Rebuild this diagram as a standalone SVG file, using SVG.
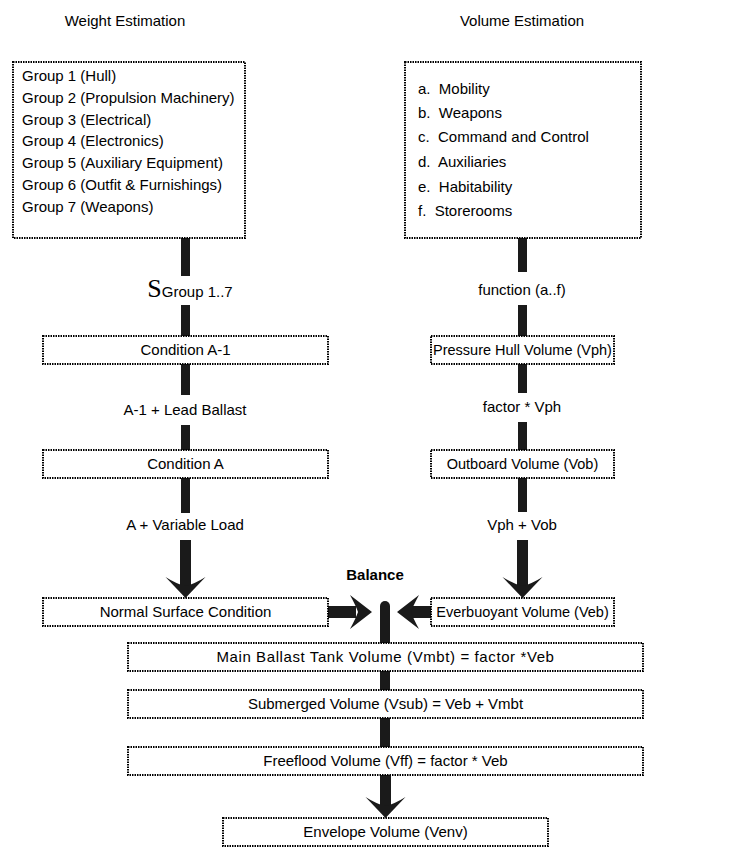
<svg xmlns="http://www.w3.org/2000/svg" width="750" height="867" viewBox="0 0 750 867">
  <style>
    .box { fill: #fff; stroke: #000; stroke-width: 2; stroke-dasharray: 1.5 1; }
    .t { font-family: "Liberation Sans", Arial, sans-serif; font-size: 15px; fill: #000; }
    .s { font-size: 14.5px; }
    .c { text-anchor: middle; }
    .bar { fill: #1a1a1a; }
    .title { font-family: "Liberation Sans", Arial, sans-serif; font-size: 15px; fill: #000; text-anchor: middle; }
  </style>
  <defs>
    <!-- downward chevron arrowhead, tip at origin -->
    <path id="headDown" d="M0,0 L-20,-21 Q-9,-14 0,-12 Q9,-14 20,-21 Z"/>
  </defs>
  <rect width="750" height="867" fill="#fff"/>

  <text class="title" x="125" y="26">Weight Estimation</text>
  <text class="title" x="522" y="26">Volume Estimation</text>

  <!-- connectors -->
  <g id="connectors" class="bar">
    <!-- weight column -->
    <rect x="181" y="238" width="9" height="38"/>
    <rect x="181" y="305" width="9" height="31"/>
    <rect x="181" y="364" width="9" height="31"/>
    <rect x="181" y="425" width="9" height="25"/>
    <rect x="181" y="478" width="9" height="35"/>
    <rect x="180" y="540" width="11" height="48"/>
    <use href="#headDown" x="185.5" y="598"/>
    <!-- volume column -->
    <rect x="518" y="238" width="9" height="34"/>
    <rect x="518" y="305" width="9" height="31"/>
    <rect x="518" y="364" width="9" height="29"/>
    <rect x="518" y="422" width="9" height="28"/>
    <rect x="518" y="478" width="9" height="34"/>
    <rect x="517" y="540" width="11" height="48"/>
    <use href="#headDown" x="522.5" y="598"/>
    <!-- balance arrows -->
    <rect x="328" y="606" width="28" height="12"/>
    <path d="M372,612 L350,595 Q356,606 358,612 Q356,618 350,629 Z"/>
    <rect x="410" y="606" width="21" height="12"/>
    <path d="M397,612 L419,595 Q413,606 411,612 Q413,618 419,629 Z"/>
    <rect x="380" y="601" width="10" height="40" rx="5"/>
    <rect x="380" y="612" width="10" height="31"/>
    <!-- envelope chain -->
    <rect x="380" y="671" width="10" height="19"/>
    <rect x="380" y="718" width="10" height="29"/>
    <rect x="380" y="775" width="11" height="33"/>
    <use href="#headDown" x="385.5" y="818"/>
  </g>

  <!-- connector labels -->
  <g id="labels">
    <text x="190" y="297" class="c"><tspan font-family="'Liberation Serif', 'Times New Roman', serif" font-size="26px">S</tspan><tspan class="t">Group 1..7</tspan></text>
    <text class="t c" x="185" y="415">A-1 + Lead Ballast</text>
    <text class="t c" x="185" y="530">A + Variable Load</text>
    <text class="t c" x="522" y="295">function (a..f)</text>
    <text class="t c" x="522" y="412">factor * Vph</text>
    <text class="t c" x="522" y="530">Vph + Vob</text>
    <text class="t c" x="375" y="580" style="font-weight:bold">Balance</text>
  </g>

  <g id="weight-groups">
    <rect class="box" x="13" y="62" width="232" height="176"/>
    <text class="t" x="22" y="81">Group 1 (Hull)</text>
    <text class="t" x="22" y="103">Group 2 (Propulsion Machinery)</text>
    <text class="t" x="22" y="125">Group 3 (Electrical)</text>
    <text class="t" x="22" y="146">Group 4 (Electronics)</text>
    <text class="t" x="22" y="168">Group 5 (Auxiliary Equipment)</text>
    <text class="t" x="22" y="190">Group 6 (Outfit &amp; Furnishings)</text>
    <text class="t" x="22" y="212">Group 7 (Weapons)</text>
  </g>

  <g id="volume-categories">
    <rect class="box" x="405" y="62" width="236" height="176"/>
    <text class="t" x="418" y="94" xml:space="preserve">a.  Mobility</text>
    <text class="t" x="418" y="118" xml:space="preserve">b.  Weapons</text>
    <text class="t" x="418" y="142" xml:space="preserve">c.  Command and Control</text>
    <text class="t" x="418" y="167" xml:space="preserve">d.  Auxiliaries</text>
    <text class="t" x="418" y="192" xml:space="preserve">e.  Habitability</text>
    <text class="t" x="418" y="216" xml:space="preserve">f.  Storerooms</text>
  </g>

  <g id="condition-a1">
    <rect class="box" x="43" y="336" width="285" height="28"/>
    <text class="t c" x="185.5" y="355">Condition A-1</text>
  </g>
  <g id="condition-a">
    <rect class="box" x="43" y="450" width="285" height="28"/>
    <text class="t c" x="185.5" y="469">Condition A</text>
  </g>
  <g id="normal-surface">
    <rect class="box" x="43" y="598" width="285" height="28"/>
    <text class="t c" x="185.5" y="617">Normal Surface Condition</text>
  </g>

  <g id="pressure-hull">
    <rect class="box" x="431" y="336" width="183" height="28"/>
    <text class="t s c" x="522.5" y="355">Pressure Hull Volume (Vph)</text>
  </g>
  <g id="outboard">
    <rect class="box" x="431" y="450" width="183" height="28"/>
    <text class="t s c" x="522.5" y="469">Outboard Volume (Vob)</text>
  </g>
  <g id="everbuoyant">
    <rect class="box" x="431" y="598" width="183" height="28"/>
    <text class="t s c" x="522.5" y="617">Everbuoyant Volume (Veb)</text>
  </g>

  <g id="main-ballast">
    <rect class="box" x="128" y="643" width="515" height="28"/>
    <text class="t c" x="385.5" y="662" style="letter-spacing:0.6px">Main Ballast Tank Volume (Vmbt) = factor *Veb</text>
  </g>
  <g id="submerged">
    <rect class="box" x="128" y="690" width="515" height="28"/>
    <text class="t c" x="385.5" y="709">Submerged Volume (Vsub) = Veb + Vmbt</text>
  </g>
  <g id="freeflood">
    <rect class="box" x="128" y="747" width="515" height="28"/>
    <text class="t c" x="385.5" y="766">Freeflood Volume (Vff) = factor * Veb</text>
  </g>
  <g id="envelope">
    <rect class="box" x="223" y="818" width="325" height="28"/>
    <text class="t c" x="385.5" y="837">Envelope Volume (Venv)</text>
  </g>
</svg>
